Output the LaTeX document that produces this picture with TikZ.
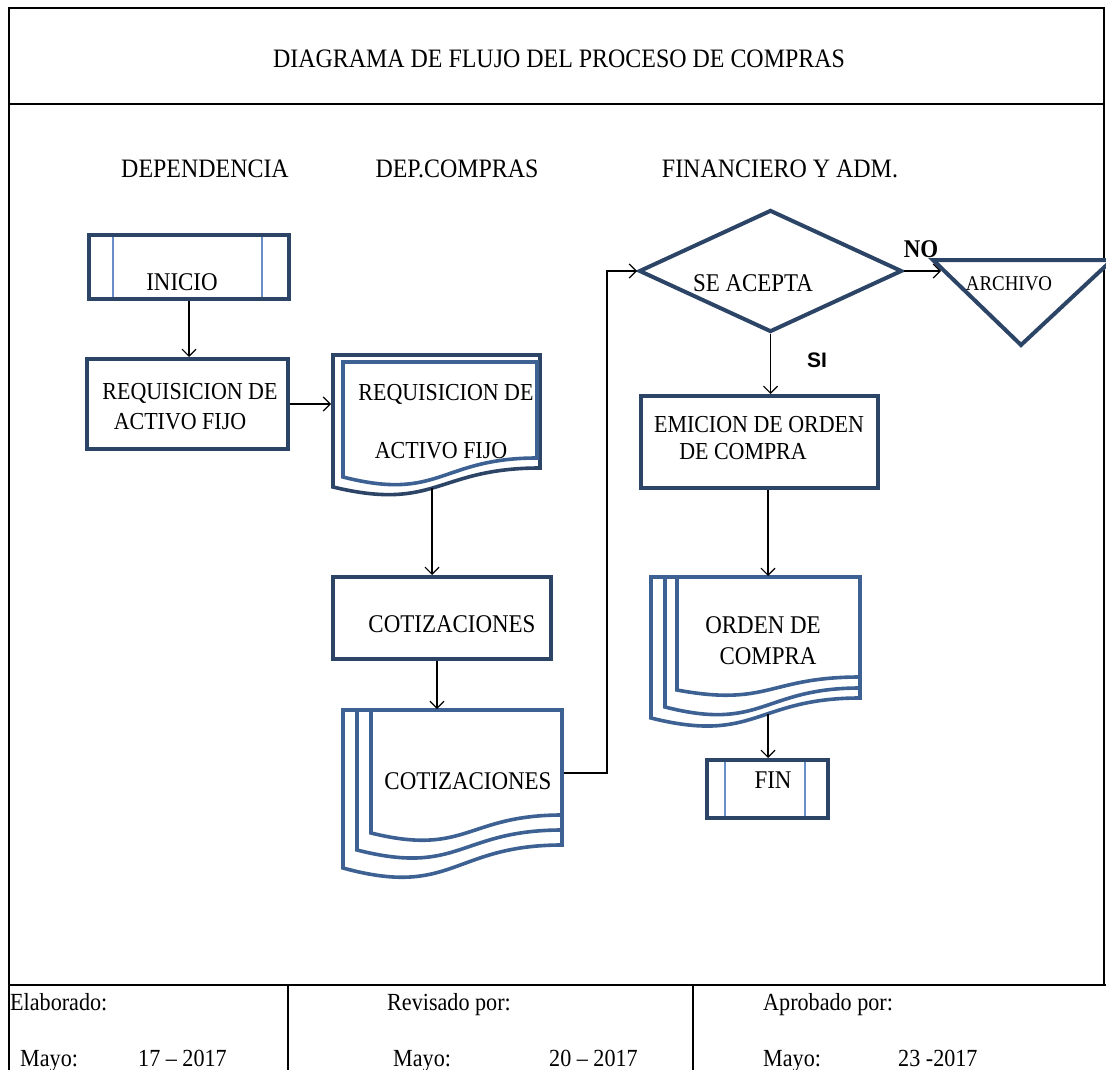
\documentclass[tikz,border=0pt]{standalone}
\usepackage{fontspec}
\setmainfont[FakeStretch=0.9]{Liberation Serif}
\newfontfamily\labelsans{Liberation Sans}
\usetikzlibrary{arrows.meta,shapes.geometric}

\definecolor{navy}{HTML}{2C4466}
\definecolor{docblue}{HTML}{3D6192}
\definecolor{rulblue}{HTML}{6A8FC8}

% document symbol: left, top, right, y at right end of wave, y at left end of wave
\newcommand\flowdoc[6]{%
  \draw[#1] (#2,#3) -- (#4,#3) -- (#4,#5)
    .. controls ({(#2+#4)/2},#5) and ({(#2+#4)/2},{#5+2.31*(#6-#5)}) .. (#2,#6) -- cycle;}

\begin{document}
\begin{tikzpicture}[x=1pt,y=-1pt,
  frameline/.style={line width=1.8pt,black},
  thinrule/.style={line width=1.2pt,black},
  boxnode/.style={draw=navy,line width=4pt,fill=white,rectangle,inner sep=0pt},
  docline/.style={draw=docblue,line width=3.6pt,fill=white,line join=miter},
  docdark/.style={draw=navy,line width=3.6pt,fill=white,line join=miter},
  sideline/.style={draw=rulblue,line width=1.3pt},
  flow/.style={line width=1.2pt,black,-{Straight Barb[length=7pt,width=14pt,line width=1.2pt]}},
  txt/.style={anchor=base,inner sep=0pt,font=\fontsize{25.5}{30}\selectfont},
  smalltxt/.style={txt,font=\fontsize{24.4}{29}\selectfont},
  headtxt/.style={txt,font=\fontsize{26.6}{31}\selectfont},
  foottxt/.style={anchor=base west,inner sep=0pt,font=\fontsize{24.6}{29}\selectfont}]

\useasboundingbox (0,0) rectangle (1106,1070);
\clip (0,0) rectangle (1106,1070);
\fill[white] (0,0) rectangle (1106,1070);

% outer frame, title band and footer rules
\draw[frameline] (9,1070) -- (9,8) -- (1104,8) -- (1104,985);
\draw[frameline] (9,104) -- (1104,104);
\draw[frameline] (9,985) -- (1106,985);
\draw[thinrule] (288,985) -- (288,1070);
\draw[thinrule] (693,985) -- (693,1070);

\node[headtxt] (title) at (559,68) {DIAGRAMA DE FLUJO DEL PROCESO DE COMPRAS};
\node[headtxt] (hdep) at (205,178) {DEPENDENCIA};
\node[headtxt] (hcom) at (457,178) {DEP.COMPRAS};
\node[headtxt] (hfin) at (780,178) {FINANCIERO Y ADM.};

% ---- DEPENDENCIA column
\node[boxnode,minimum width=200pt,minimum height=64pt] (inicio) at (189,267) {};
\draw[sideline] (113,237) -- (113,297);
\draw[sideline] (262,237) -- (262,297);
\node[txt] (tinicio) at (182,290) {INICIO};

\node[boxnode,minimum width=201pt,minimum height=90pt] (req) at (187.5,404) {};
\node[smalltxt] (treq1) at (190,399) {REQUISICION DE};
\node[smalltxt] (treq2) at (180,429) {ACTIVO FIJO};

% ---- DEP.COMPRAS column
\flowdoc{docdark}{333}{355}{540}{468}{487}
\flowdoc{docline}{343}{362}{537}{458}{477}
\coordinate (d1w) at (331,404);
\coordinate (d1s) at (432,488);
\node[smalltxt] (td1a) at (446,400) {REQUISICION DE};
\node[smalltxt] (td1b) at (441,458) {ACTIVO FIJO};

\node[boxnode,minimum width=218pt,minimum height=82pt] (cot) at (442,618) {};
\node[txt] (tcot) at (452,632) {COTIZACIONES};

\flowdoc{docline}{343}{710}{562}{845}{868}
\flowdoc{docline}{357}{710}{562}{830}{850}
\flowdoc{docline}{371}{710}{562}{815}{833}
\coordinate (md1n) at (437,709);
\coordinate (md1e) at (564,773);
\node[txt] (tmd1) at (468,789) {COTIZACIONES};

% ---- FINANCIERO Y ADM. column
\node[draw=navy,line width=4pt,fill=white,diamond,inner sep=0pt,
      minimum width=263pt,minimum height=122pt] (dia) at (770.5,271) {};
\node[txt] (tdia) at (753,291) {SE ACEPTA};

% archive symbol, running past the right edge of the sheet
\draw[draw=navy,line width=4pt,fill=white,line join=miter]
  (933,260) -- (1112,260) -- (1021,345) -- cycle;
\coordinate (archw) at (941,271);
\node[txt,font=\fontsize{21}{25}\selectfont] (tarch) at (1009,290) {ARCHIVO};
\node[txt,font=\fontsize{25.5}{30}\selectfont\bfseries] (tno) at (921,257) {NO};

\node[txt,font=\labelsans\bfseries\fontsize{21}{25}\selectfont] (tsi) at (817,367) {SI};

\node[boxnode,minimum width=237pt,minimum height=92pt] (emi) at (759.5,442) {};
\node[smalltxt] (temi1) at (759,432) {EMICION DE ORDEN};
\node[smalltxt] (temi2) at (743,459) {DE COMPRA};

\flowdoc{docline}{651}{577}{860}{698}{718}
\flowdoc{docline}{665}{577}{860}{688}{707}
\flowdoc{docline}{677}{577}{860}{677}{690}
\coordinate (md2n) at (768,576);
\coordinate (md2s) at (768,714);
\node[txt] (tmd2a) at (763,633) {ORDEN DE};
\node[txt] (tmd2b) at (768,664) {COMPRA};

\node[boxnode,minimum width=121pt,minimum height=58pt] (fin) at (767.5,789) {};
\draw[sideline] (725,762) -- (725,816);
\draw[sideline] (805,762) -- (805,816);
\node[txt] (tfin) at (773,788) {FIN};

% ---- connectors
\draw[flow] (inicio.south) -- (inicio.south |- req.north);
\draw[flow] (req.east) -- (d1w);
\draw[flow] (d1s) -- (d1s |- cot.north);
\draw[flow] (cot.south -| md1n) -- (md1n);
\draw[flow] (md1e) -- (607,773) |- (dia.west);
\draw[flow] (dia.east) -- (archw);
\draw[flow] (dia.south) -- (dia.south |- emi.north);
\draw[flow] (emi.south -| md2n) -- (md2n);
\draw[flow] (md2s) -- (md2s |- fin.north);

% ---- footer
\node[foottxt] (f1) at (10,1010) {Elaborado:};
\node[foottxt] (f2) at (387,1010) {Revisado por:};
\node[foottxt] (f3) at (763,1010) {Aprobado por:};
\node[foottxt] (f4) at (20,1066) {Mayo:};
\node[foottxt] (f5) at (138,1066) {17 – 2017};
\node[foottxt] (f6) at (393,1066) {Mayo:};
\node[foottxt] (f7) at (549,1066) {20 – 2017};
\node[foottxt] (f8) at (763,1066) {Mayo:};
\node[foottxt] (f9) at (898,1066) {23 -2017};
\end{tikzpicture}
\end{document}
